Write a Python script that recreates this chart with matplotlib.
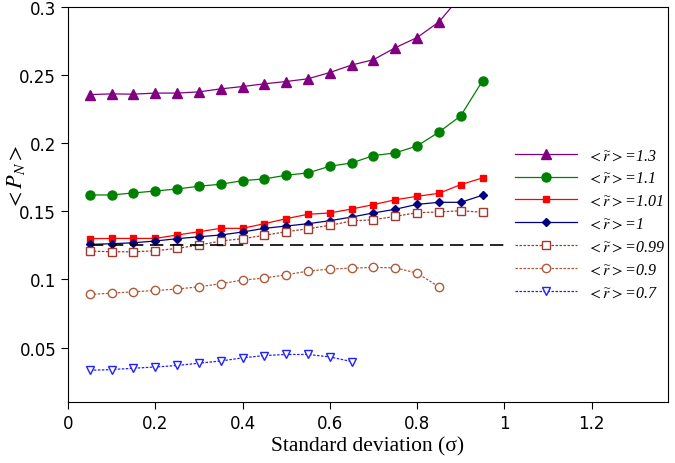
#!/usr/bin/python3

"""
Mean P_N against standard deviation for several mean ratios.
"""

import numpy as np
import matplotlib
matplotlib.use("Agg")
import matplotlib.pyplot as plt

plt.rcParams["mathtext.fontset"] = "stix"

sigma = [0.05, 0.10, 0.15, 0.20, 0.25, 0.30, 0.35, 0.40, 0.45, 0.50,
         0.55, 0.60, 0.65, 0.70, 0.75, 0.80, 0.85, 0.90, 0.95]

r_13 = [0.2357, 0.2362, 0.2360, 0.2368, 0.2368, 0.2377, 0.2399, 0.2416, 0.2436,
        0.2453, 0.2473, 0.2519, 0.2574, 0.2613, 0.2701, 0.2776, 0.2890, 0.3080, 0.3300]
r_11 = [0.1620, 0.1620, 0.1635, 0.1649, 0.1664, 0.1684, 0.1699, 0.1725, 0.1738,
        0.1765, 0.1782, 0.1831, 0.1855, 0.1909, 0.1929, 0.1980, 0.2081, 0.2201, 0.2458]
r_101 = [0.1299, 0.1301, 0.1301, 0.1301, 0.1326, 0.1350, 0.1375, 0.1375, 0.1409,
         0.1446, 0.1478, 0.1488, 0.1517, 0.1549, 0.1585, 0.1610, 0.1632, 0.1696, 0.1745]
r_1 = [0.1257, 0.1262, 0.1269, 0.1282, 0.1299, 0.1313, 0.1326, 0.1348, 0.1375,
       0.1392, 0.1409, 0.1431, 0.1458, 0.1488, 0.1515, 0.1551, 0.1566, 0.1566, 0.1618]
r_099 = [0.1208, 0.1203, 0.1203, 0.1210, 0.1228, 0.1252, 0.1282, 0.1299, 0.1324,
         0.1350, 0.1372, 0.1397, 0.1429, 0.1438, 0.1463, 0.1490, 0.1495, 0.1504, 0.1493]
r_09 = [0.0890, 0.0899, 0.0909, 0.0919, 0.0929, 0.0946, 0.0968, 0.0995, 0.1010,
        0.1034, 0.1061, 0.1076, 0.1083, 0.1088, 0.1085, 0.1046, 0.0946]
r_07 = [0.0333, 0.0338, 0.0348, 0.0357, 0.0368, 0.0385, 0.0401, 0.0424, 0.0441,
        0.0449, 0.0449, 0.0431, 0.0397]

threshold = 0.125
threshold_x = [0.05, 1.0]

labels = ["1.3", "1.1", "1.01", "1", "0.99", "0.9", "0.7"]


def main():
    fig = plt.figure(figsize=(6.75, 4.64), dpi=100)
    ax = fig.add_axes([68 / 675, 1 - 403 / 464, 600 / 675, 395 / 464])

    dot = (0, (2, 1.2))
    series = [
        (r_13, dict(color="#800080", marker="^", ms=6.5, ls="-", lw=0.9)),
        (r_11, dict(color="#008000", marker="o", ms=6.5, ls="-", lw=0.9)),
        (r_101, dict(color="#ff0000", marker="s", ms=5, ls="-", lw=0.9)),
        (r_1, dict(color="#000080", marker="D", ms=4.2, ls="-", lw=0.9)),
        (r_099, dict(color="#a33a2e", marker="s", ms=6, ls=dot, lw=0.9, mfc="white")),
        (r_09, dict(color="#b05a3a", marker="o", ms=6, ls=dot, lw=0.9, mfc="white")),
        (r_07, dict(color="#2020ff", marker="v", ms=6, ls=dot, lw=0.9, mfc="white")),
    ]
    for (vals, style), lab in zip(series, labels):
        ax.plot(sigma[:len(vals)], vals,
                label=r"$<\widetilde{r}>$=" + lab, **style)

    ax.plot(threshold_x, [threshold, threshold], color="black", lw=1.2,
            ls=(0, (8, 4)))

    ax.set_xlim(0, 1.375)
    ax.set_ylim(0.01, 0.3)
    ax.set_xticks([0, 0.2, 0.4, 0.6, 0.8, 1.0, 1.2])
    ax.set_xticklabels(["0", "0.2", "0.4", "0.6", "0.8", "1", "1.2"])
    ax.set_yticks([0.05, 0.1, 0.15, 0.2, 0.25, 0.3])
    ax.set_yticklabels(["0.05", "0.1", "0.15", "0.2", "0.25", "0.3"])
    ax.tick_params(direction="out", length=5, labelsize=12, top=False, right=False)

    ax.set_xlabel("Standard deviation (σ)", family="Liberation Serif",
                  fontsize=15.5, labelpad=3)
    ax.set_ylabel(r"$<P_N>$", fontsize=16)
    ax.yaxis.set_label_coords(-0.068, 0.572)

    ax.legend(loc="upper left", bbox_to_anchor=(0.745, 0.645), frameon=False,
              handlelength=3.9, handletextpad=0.6, labelspacing=0.43,
              borderaxespad=0, borderpad=0,
              prop={"family": "Liberation Serif", "style": "italic", "size": 11.5})

    fig.savefig("out.png", dpi=100)


if(__name__ == "__main__"):
    main()
